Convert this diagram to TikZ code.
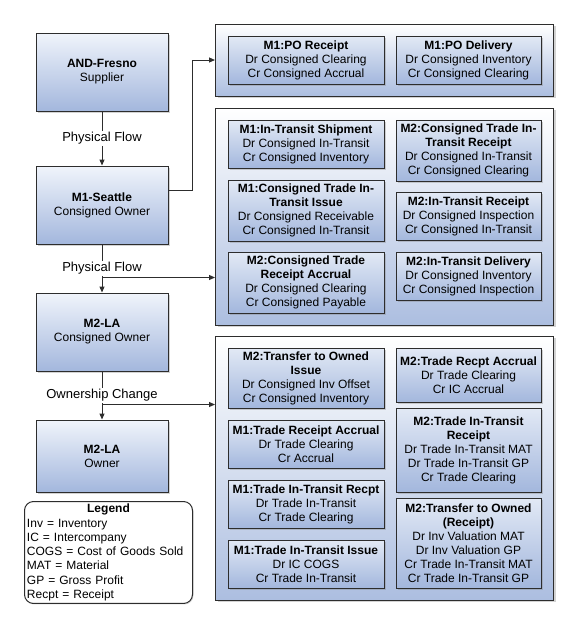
\documentclass[tikz,border=0pt]{standalone}
\usepackage{fontspec}
\setmainfont{Liberation Sans}
\usetikzlibrary{arrows.meta,positioning,fit,backgrounds,shadows}

\definecolor{boxTop}{RGB}{240,244,251}
\definecolor{boxBottom}{RGB}{163,183,221}
\definecolor{entryTop}{RGB}{226,233,245}
\definecolor{panelBottom}{RGB}{172,190,224}
\definecolor{lineGray}{RGB}{45,45,45}

\begin{document}
\begin{tikzpicture}[
    x=1pt, y=1pt,
    font=\fontsize{12}{14}\selectfont,
    siteNode/.style={
        rectangle, draw=lineGray, line width=1pt,
        top color=boxTop, bottom color=boxBottom,
        minimum width=132pt, minimum height=78pt, align=center,
        drop shadow={opacity=0.35, shadow xshift=2pt, shadow yshift=-2pt}
    },
    entryNode/.style={
        rectangle, draw=lineGray, line width=1pt,
        top color=entryTop, bottom color=boxBottom,
        minimum height=48pt, inner sep=2pt, align=center,
        drop shadow={opacity=0.35, shadow xshift=1.5pt, shadow yshift=-1.5pt}
    },
    leftEntry/.style={entryNode, minimum width=156pt},
    rightEntry/.style={entryNode, minimum width=145pt},
    panelNode/.style={
        rectangle, draw=lineGray, line width=1pt,
        top color=white, bottom color=panelBottom,
        inner xsep=12pt, inner ysep=11.5pt,
        drop shadow={opacity=0.35, shadow xshift=2pt, shadow yshift=-2pt}
    },
    legendNode/.style={
        rectangle, rounded corners=9pt, draw=lineGray, line width=1pt, fill=white,
        text width=163pt, align=left, inner sep=2.5pt,
        font=\fontsize{12}{14.3}\selectfont,
        drop shadow={opacity=0.3, shadow xshift=1pt, shadow yshift=-1pt}
    },
    flowArrow/.style={
        -{Triangle[length=6pt, width=5pt]}, line width=1pt, draw=lineGray
    },
    flowLabel/.style={
        fill=white, inner sep=1pt, font=\fontsize{13}{14}\selectfont
    }
]
\useasboundingbox (0,0) rectangle (576,-624);

% Sites
\node[siteNode] (fresno) at (102,-72) {\textbf{AND-Fresno}\\Supplier};
\node[siteNode, below=54pt of fresno] (seattle) {\textbf{M1-Seattle}\\Consigned Owner};
\node[siteNode, below=48pt of seattle] (laCons) {\textbf{M2-LA}\\Consigned Owner};
\node[siteNode, below=48pt of laCons, minimum height=72pt] (laOwner) {\textbf{M2-LA}\\Owner};

% Legend
\node[legendNode, anchor=north west] (legend) at (24,-501) {
    \makebox[\linewidth]{\textbf{Legend}}\\
    Inv = Inventory\\
    IC = Intercompany\\
    COGS = Cost of Goods Sold\\
    MAT = Material\\
    GP = Gross Profit\\
    Recpt = Receipt
};

% Accounting entries: PO
\node[leftEntry] (poRcpt) at (306,-60) {\textbf{M1:PO Receipt}\\Dr Consigned Clearing\\Cr Consigned Accrual};
\node[rightEntry] (poDlv) at (468.5,-60) {\textbf{M1:PO Delivery}\\Dr Consigned Inventory\\Cr Consigned Clearing};

% Accounting entries: consigned transfer
\node[leftEntry] (itShip) at (306,-144) {\textbf{M1:In-Transit Shipment}\\Dr Consigned In-Transit\\Cr Consigned Inventory};
\node[leftEntry, minimum height=61pt] (ctIssue) at (306,-210.5) {\textbf{M1:Consigned Trade In-}\\\textbf{Transit Issue}\\Dr Consigned Receivable\\Cr Consigned In-Transit};
\node[leftEntry, minimum height=61pt] (ctAccr) at (306,-282.5) {\textbf{M2:Consigned Trade}\\\textbf{Receipt Accrual}\\Dr Consigned Clearing\\Cr Consigned Payable};
\node[rightEntry, minimum height=61pt] (ctRcpt) at (468.5,-150.5) {\textbf{M2:Consigned Trade In-}\\\textbf{Transit Receipt}\\Dr Consigned In-Transit\\Cr Consigned Clearing};
\node[rightEntry] (itRcpt) at (468.5,-216.5) {\textbf{M2:In-Transit Receipt}\\Dr Consigned Inspection\\Cr Consigned In-Transit};
\node[rightEntry] (itDlv) at (468.5,-276.5) {\textbf{M2:In-Transit Delivery}\\Dr Consigned Inventory\\Cr Consigned Inspection};

% Accounting entries: ownership change
\node[leftEntry, minimum height=60pt] (toIssue) at (306,-378) {\textbf{M2:Transfer to Owned}\\\textbf{Issue}\\Dr Consigned Inv Offset\\Cr Consigned Inventory};
\node[leftEntry] (trAccr) at (306,-444) {\textbf{M1:Trade Receipt Accrual}\\Dr Trade Clearing\\Cr Accrual};
\node[leftEntry] (tiRecpt) at (306,-504) {\textbf{M1:Trade In-Transit Recpt}\\Dr Trade In-Transit\\Cr Trade Clearing};
\node[leftEntry] (tiIssue) at (306,-564) {\textbf{M1:Trade In-Transit Issue}\\Dr IC COGS\\Cr Trade In-Transit};
\node[rightEntry, minimum height=54pt] (trRecptAccr) at (468.5,-375) {\textbf{M2:Trade Recpt Accrual}\\Dr Trade Clearing\\Cr IC Accrual};
\node[rightEntry, minimum height=84pt] (tiReceipt) at (468.5,-450) {\textbf{M2:Trade In-Transit}\\\textbf{Receipt}\\Dr Trade In-Transit MAT\\Dr Trade In-Transit GP\\Cr Trade Clearing};
\node[rightEntry, minimum height=90pt] (toReceipt) at (468.5,-543) {\textbf{M2:Transfer to Owned}\\\textbf{(Receipt)}\\Dr Inv Valuation MAT\\Dr Inv Valuation GP\\Cr Trade In-Transit MAT\\Cr Trade In-Transit GP};

% Panels behind the entries
\begin{scope}[on background layer]
    \node[panelNode, fit=(poRcpt)(poDlv)] (p1) {};
    \node[panelNode, fit=(itShip)(ctAccr)(ctRcpt)(itDlv)] (p2) {};
    \node[panelNode, fit=(toIssue)(tiIssue)(trRecptAccr)(toReceipt)] (p3) {};
\end{scope}

% Flows
\path (laCons.north) ++(0,15pt) coordinate (split1);
\path (laOwner.north) ++(0,15pt) coordinate (split2);

\draw[flowArrow] (fresno) -- node[flowLabel] {Physical Flow} (seattle);
\draw[flowArrow] ([yshift=15pt]seattle.east) -- ++(24pt,0) |- (p1.west);
\draw[flowArrow] (seattle) -- node[flowLabel] {Physical Flow} (laCons);
\draw[flowArrow] (split1) -- (split1 -| p2.west);
\draw[flowArrow] (laCons) -- node[flowLabel] {Ownership Change} (laOwner);
\draw[flowArrow] (split2) -- (split2 -| p3.west);

\end{tikzpicture}
\end{document}
